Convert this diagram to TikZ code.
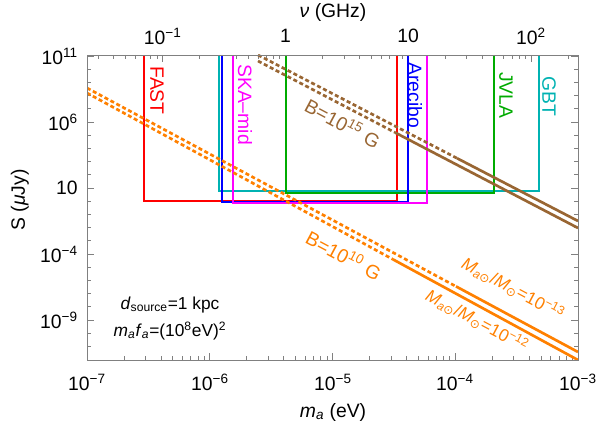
\documentclass[tikz,border=0pt]{standalone}
\usepackage{fontspec}
\setmainfont{Liberation Sans}
\newfontfamily\dvs{DejaVu Sans}
\usetikzlibrary{calc}
\newcommand\pw[1]{\textsuperscript{#1}}
\newcommand\sun{{\dvs ⊙}}
\begin{document}
\begin{tikzpicture}[x=0.75pt,y=-0.75pt,font=\fontsize{14.5}{16}\selectfont,
  box/.style={line width=1.6pt},
  crv/.style={line width=2pt},
  dsh/.style={crv,dash pattern=on 3pt off 2pt},
  tk/.style={gray,line width=0.5pt},
  lbl/.style={inner sep=0pt}]
\definecolor{cFAST}{rgb}{1,0,0}
\definecolor{cARE}{rgb}{0,0,1}
\definecolor{cSKA}{rgb}{1,0,1}
\definecolor{cJV}{rgb}{0,0.67,0}
\definecolor{cGBT}{rgb}{0,0.7,0.7}
\definecolor{cBR}{rgb}{0.6,0.4,0.2}
\definecolor{cOR}{rgb}{1,0.5,0}
\useasboundingbox (0,0) rectangle (602,431);
% ticks
\foreach \d in {-7,...,-4}{
  \foreach \m in {2,...,9}{
    \pgfmathsetmacro\xx{87+122.75*(\d+7+log10(\m))}
    \draw[tk] (\xx,360)--(\xx,356);
  }}
\foreach \d in {-7,...,-3}{
  \pgfmathsetmacro\xx{87+122.75*(\d+7)}
  \draw[tk] (\xx,360)--(\xx,353);
}
\foreach \x/\l in {87/{10\pw{−7}},210/{10\pw{−6}},333/{10\pw{−5}},455/{10\pw{−4}},578/{10\pw{−3}}}
  \node[lbl] at (\x,382) {\l};
% top ticks
\foreach \d in {-2,...,2}{
  \foreach \m in {1,...,9}{
    \pgfmathsetmacro\xx{285.4+122.75*(\d+log10(\m))}
    \pgfmathsetmacro\ll{ifthenelse(\m==1,7,4)}
    \ifdim\xx pt>87pt \ifdim\xx pt<578pt
      \draw[tk] (\xx,55)--(\xx,55+\ll);
    \fi\fi
  }}
\foreach \x/\l in {162.7/{10\pw{−1}},285.4/{1},408/{10},531/{10\pw{2}}}
  \node[lbl] at (\x,36) {\l};
% left ticks
\foreach \k in {-11,...,11}{
  \pgfmathsetmacro\yy{188-13.2*(\k-1)}
  \pgfmathsetmacro\ll{ifthenelse(mod(\k+9,5)==0,7,4)}
  \ifdim\yy pt>55pt \ifdim\yy pt<360pt
  \draw[tk] (87,\yy)--(87+\ll,\yy);
  \draw[tk] (578,\yy)--(578-\ll,\yy);
  \fi\fi}
\foreach \y/\l in {56/{10\pw{11}},122/{10\pw{6}},188/{10},254/{10\pw{−4}},320/{10\pw{−9}}}
  \node[lbl,anchor=east] at (78,\y) {\l};
% axis labels
\node[lbl] (xl) at (333,412) {\textit{m}\textsubscript{\textit{a}} (eV)};
\node[lbl] (tl) at (333,12) {\textit{ν} (GHz)};
\node[lbl,rotate=90] (yl) at (20,200) {S (\textit{μ}Jy)};
% telescope boxes
\foreach \l/\r/\b/\c in {144/397/201/cFAST,219/539/191/cGBT,286/494/193/cJV,222/408/202/cARE,233/427/203/cSKA}
  \draw[box,\c] (\l,55)--(\l,\b)--(\r,\b)--(\r,55);
\node[lbl,rotate=-90,anchor=west,text=cFAST] (fast) at (157,66) {FAST};
\node[lbl,rotate=-90,anchor=west,text=cSKA] (ska) at (245,64) {SKA–mid};
\node[lbl,rotate=-90,anchor=west,text=cARE] (are) at (415,62) {Arecibo};
\node[lbl,rotate=-90,anchor=west,text=cJV] (jv) at (506,72) {JVLA};
\node[lbl,rotate=-90,anchor=west,text=cGBT] (gbt) at (549,76) {GBT};
% curves
\begin{scope}
\clip (87,55) rectangle (578,360);
\coordinate (ou0) at (87,88); \coordinate (ou1) at (578,352);
\coordinate (ol0) at (87,93); \coordinate (ol1) at (578,360);
\coordinate (bu0) at (258,55); \coordinate (bu1) at (578,221);
\coordinate (bl0) at (258,61); \coordinate (bl1) at (578,228);
\draw[dsh,cOR] (ou0)--($(ou0)!0.7515!(ou1)$) coordinate (ouS);
\draw[crv,cOR] (ouS)--(ou1);
\draw[dsh,cOR] (ol0)--($(ol0)!0.623!(ol1)$) coordinate (olS);
\draw[crv,cOR] (olS)--(ol1);
\draw[dsh,cBR] (bu0)--($(bu0)!0.622!(bu1)$) coordinate (buS);
\draw[crv,cBR] (buS)--(bu1);
\draw[dsh,cBR] (bl0)--($(bl0)!0.428!(bl1)$) coordinate (blS);
\draw[crv,cBR] (blS)--(bl1);
\end{scope}
\draw[gray,line width=0.6pt] (87,55) rectangle (578,360);
\node[lbl,rotate=-28,text=cBR] (b15) at (343,123) {B=10\pw{15} G};
\node[lbl,rotate=-28,text=cOR] (b10) at (344,255) {B=10\pw{10} G};
\node[lbl,rotate=-28,text=cOR,font=\fontsize{13}{15}\selectfont] (m13) at (513,289) {\textit{M}\textsubscript{\textit{a}\sun}/\textit{M}\textsubscript{\sun}=10\pw{−13}};
\node[lbl,rotate=-28,text=cOR,font=\fontsize{13}{15}\selectfont] (m12) at (477,321) {\textit{M}\textsubscript{\textit{a}\sun}/\textit{M}\textsubscript{\sun}=10\pw{−12}};
\node[lbl,font=\fontsize{13}{15}\selectfont] (ds) at (170,305) {\textit{d}\textsubscript{source}=1 kpc};
\node[lbl,font=\fontsize{13}{15}\selectfont] (mf) at (170,331) {\textit{m}\textsubscript{\textit{a}}\textit{f}\textsubscript{\textit{a}}=(10\pw{8}eV)\pw{2}};
\end{tikzpicture}
\end{document}
